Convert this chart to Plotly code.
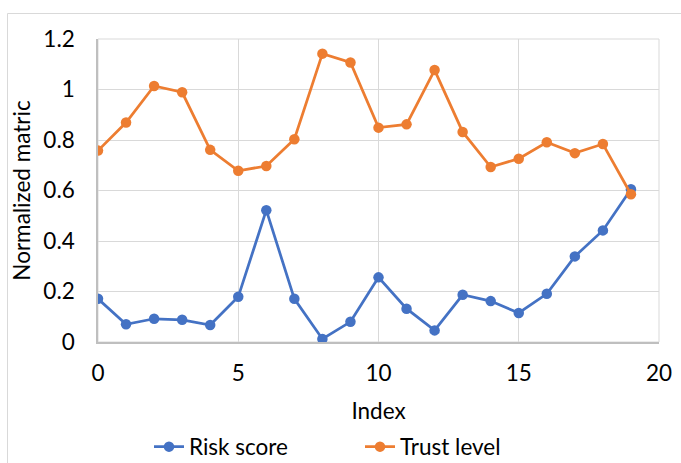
import plotly.graph_objects as go

index = list(range(20))
risk_score = [0.171, 0.070, 0.092, 0.088, 0.067, 0.179, 0.522, 0.171, 0.012, 0.080,
              0.256, 0.132, 0.046, 0.187, 0.162, 0.115, 0.191, 0.339, 0.442, 0.605]
trust_level = [0.758, 0.869, 1.014, 0.989, 0.761, 0.678, 0.697, 0.803, 1.142, 1.107,
               0.849, 0.862, 1.077, 0.832, 0.693, 0.726, 0.791, 0.748, 0.784, 0.585]

FONT = "Lato, Carlito, Calibri, sans-serif"
FS = 22.5
W, H = 681, 463
L, T = 98, 39
pw, ph = 561, 303
R, B = W - L - pw, H - T - ph

fig = go.Figure()
fig.add_trace(go.Scatter(x=index, y=risk_score, name="Risk score", mode="lines+markers",
                         line=dict(color="#4472C4", width=2.75),
                         marker=dict(size=10.5, color="#4472C4")))
fig.add_trace(go.Scatter(x=index, y=trust_level, name="Trust level", mode="lines+markers",
                         line=dict(color="#ED7D31", width=2.75),
                         marker=dict(size=10.5, color="#ED7D31")))

def px_x(p):
    return (p - L) / pw

def px_y(p):
    return (H - B - p) / ph

fig.update_layout(
    width=W, height=H,
    margin=dict(l=L, r=R, t=T, b=B, autoexpand=False),
    paper_bgcolor="white", plot_bgcolor="white",
    font=dict(family=FONT, size=FS, color="#000000"),
    showlegend=True,
    legend=dict(orientation="h", x=px_x(149), xanchor="left", y=px_y(447), yanchor="middle",
                entrywidth=166, entrywidthmode="pixels",
                font=dict(family=FONT, size=FS, color="#000000"), bgcolor="rgba(0,0,0,0)"),
    xaxis=dict(range=[0, 20], dtick=5, tick0=0, showgrid=True, gridcolor="#D9D9D9", gridwidth=1,
               zeroline=False, showline=True, linecolor="#BFBFBF", linewidth=1.5, mirror=False,
               ticks="", ticklabelstandoff=10, automargin=False,
               title=dict(text="Index", standoff=18, font=dict(family=FONT, size=FS))),
    yaxis=dict(range=[0, 1.2], dtick=0.2, tick0=0, showgrid=True, gridcolor="#D9D9D9", gridwidth=1,
               zeroline=False, showline=True, linecolor="#BFBFBF", linewidth=1.5,
               ticks="", ticklabelstandoff=17, automargin=False,
               title=dict(text="Normalized matric", standoff=6, font=dict(family=FONT, size=FS))),
    shapes=[
        dict(type="rect", xref="paper", yref="paper", x0=0, x1=1, y0=0, y1=1,
             line=dict(color="#D9D9D9", width=1), layer="below"),
        dict(type="rect", xref="paper", yref="paper", x0=px_x(7.5), x1=px_x(720),
             y0=px_y(520), y1=px_y(13.5), line=dict(color="#D9D9D9", width=1), layer="below"),
    ],
)

fig.write_html("out.html", config={"displayModeBar": False},
               post_script="document.body.style.margin='0';document.body.style.overflow='hidden';")
